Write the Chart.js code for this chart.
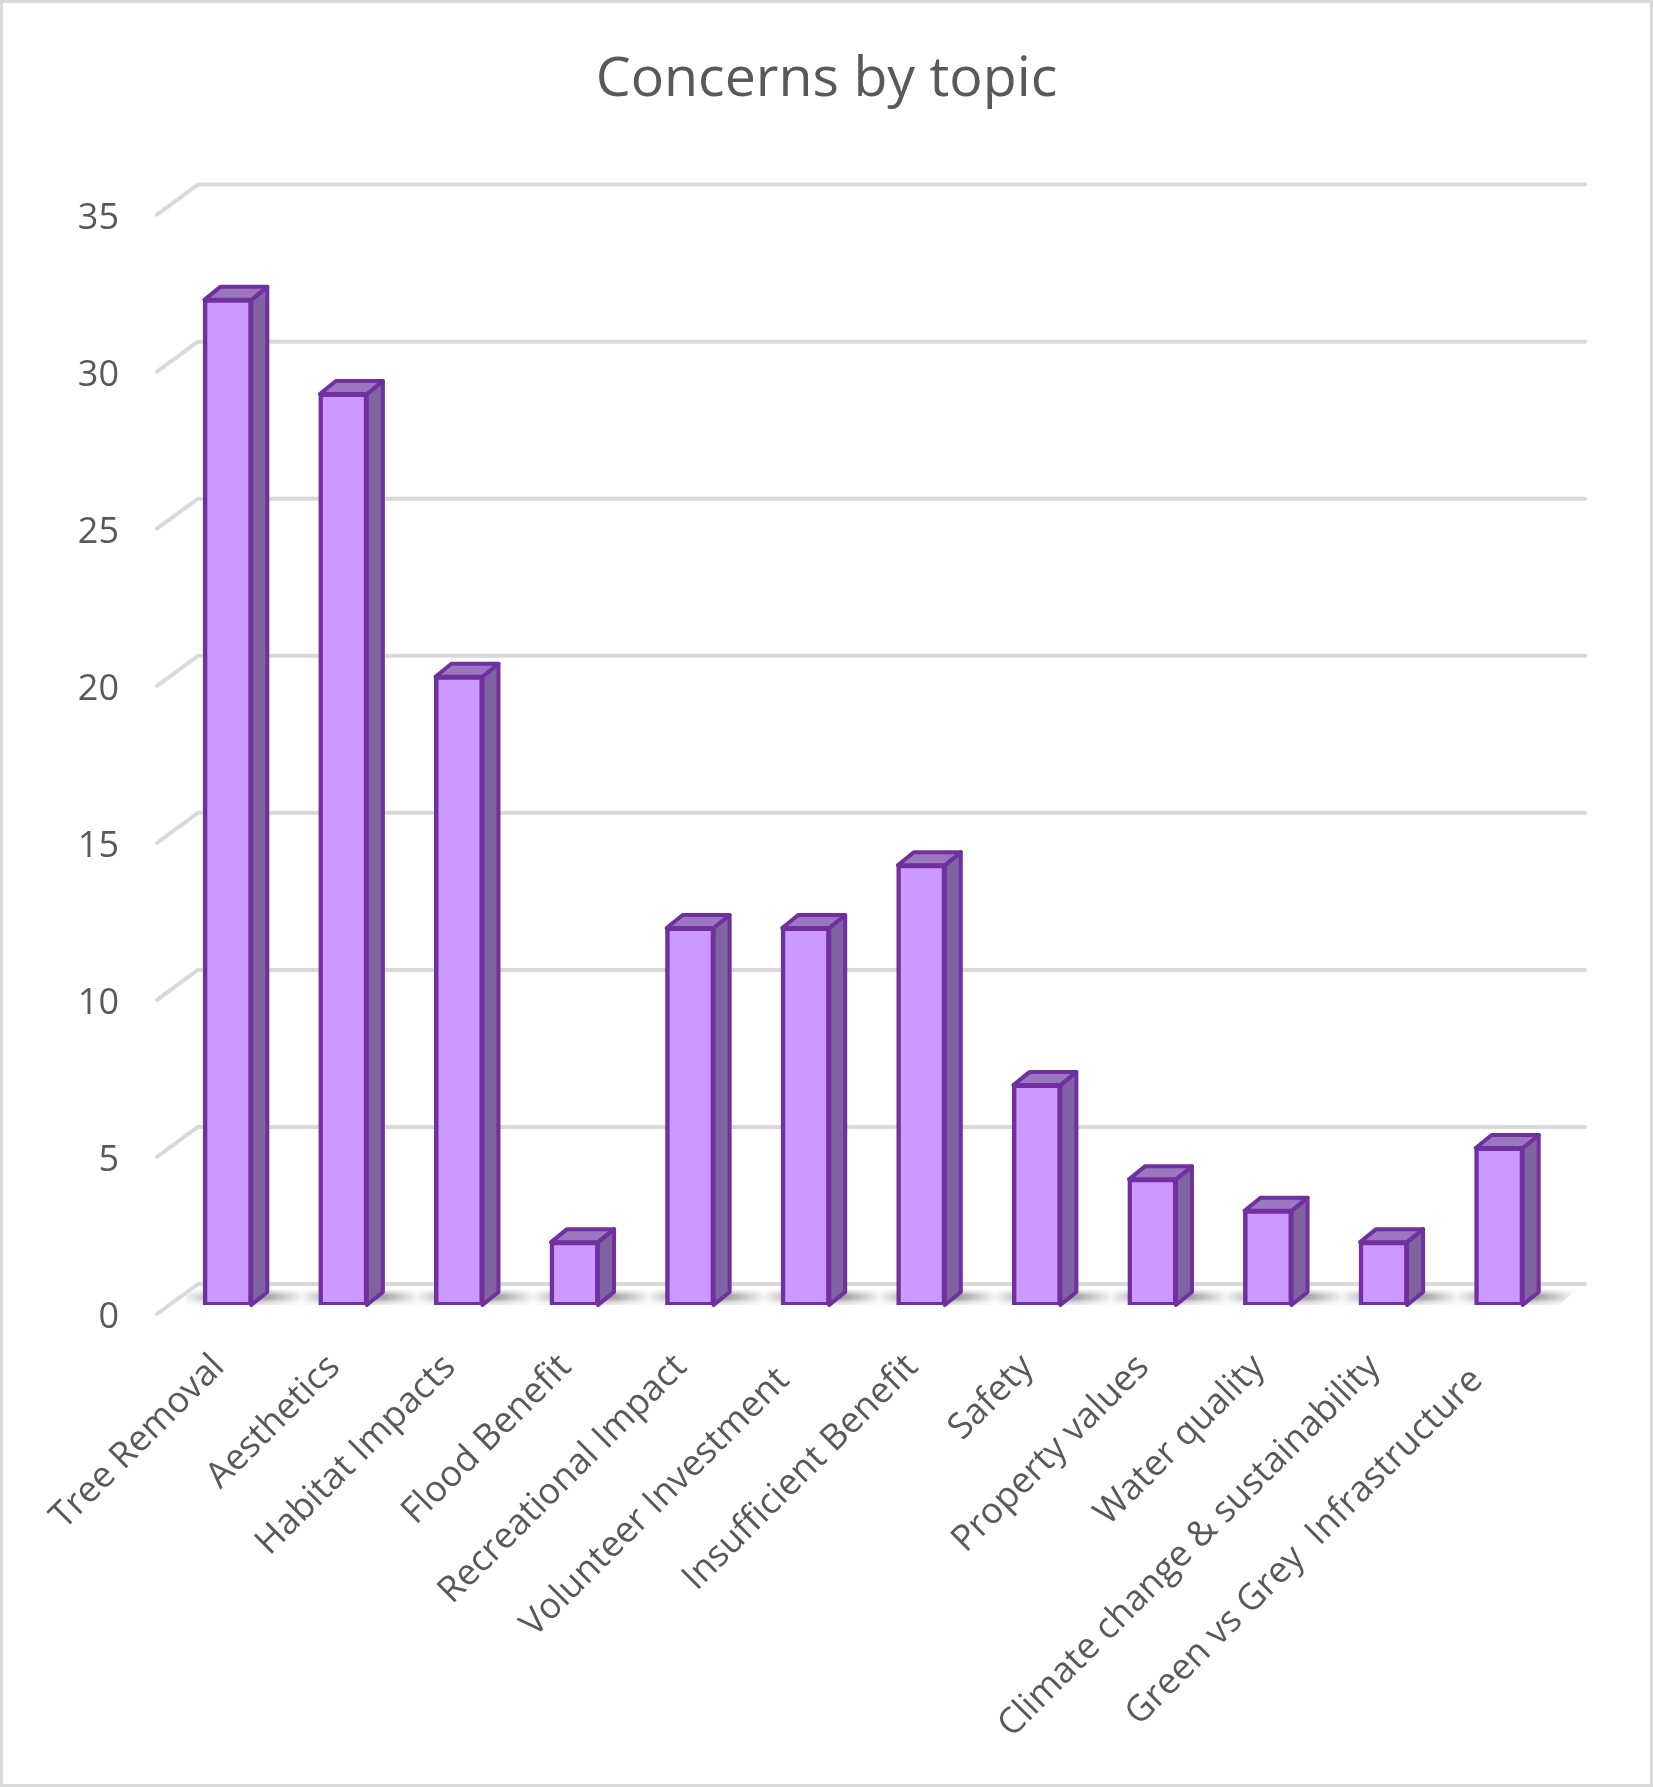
<!DOCTYPE html>
<html><head><meta charset="utf-8">
<style>
html,body{margin:0;padding:0;background:#fff}
#wrap{position:relative;width:1653px;height:1787px;overflow:hidden}
#wrap:after{content:"";position:absolute;inset:0;border:3px solid #d9d9d9;box-sizing:border-box;pointer-events:none}
canvas{display:block}
</style>
<script src="https://cdn.jsdelivr.net/npm/chart.js@4/dist/chart.umd.min.js"></script>
</head><body><div id="wrap"><canvas id="c" width="1653" height="1787"></canvas></div>
<script>
const titleText = "Concerns by topic";
const categories = ["Tree Removal","Aesthetics","Habitat Impacts","Flood Benefit","Recreational Impact","Volunteer Investment  ","Insufficient Benefit","Safety","Property values","Water quality","Climate change & sustainability","Green vs Grey  Infrastructure  "];
const concerns = [32,29,20,2,12,12,14,7,4,3,2,5];
const yMax = 35, yStep = 5;
const FONT = "'Open Sans'";

// 3D look: depth of the bars and of the floor, in pixels
const barDX = 16, barDY = 13;
const backDX = 28, backDY = 21;      // bar front plane -> back wall
const frontDX = 13, frontDY = 9;     // bar front plane -> front of side wall

const threeD = {
  id:'threeD',
  afterLayout(chart){
    // centre the title on the whole canvas
    const t = chart.titleBlock;
    if(t){ t.left = 0; t.right = chart.width; }
  },
  beforeDatasetsDraw(chart){
    const {ctx, scales:{y}, chartArea:a} = chart;
    const bars = chart.getDatasetMeta(0).data;
    const y0 = y.getPixelForValue(0);
    const top = y0-16, bot = y0;
    ctx.save();
    // floor shadows, clipped to a floor parallelogram
    const lastR = bars[bars.length-1].x;
    const floor = new Path2D();
    floor.moveTo(bars[0].x-42,top);floor.lineTo(lastR+78,top);floor.lineTo(lastR+60,bot);floor.lineTo(bars[0].x-48,bot);floor.closePath();
    ctx.save();
    ctx.clip(floor);
    const half = (bars[1].x-bars[0].x)/2;
    bars.forEach(b=>{
      const cx = b.x+barDX, xs = cx-half, xe = cx+half;
      const g = ctx.createLinearGradient(xs,0,xe,0);
      g.addColorStop(0,'rgba(110,110,110,.08)');
      g.addColorStop(.25,'rgba(110,110,110,.55)');
      g.addColorStop(.5,'rgba(110,110,110,.95)');
      g.addColorStop(.75,'rgba(110,110,110,.55)');
      g.addColorStop(1,'rgba(110,110,110,.08)');
      ctx.fillStyle = g;
      ctx.fillRect(xs,top,xe-xs,bot-top);
    });
    const vg = ctx.createLinearGradient(0,top,0,bot);
    vg.addColorStop(0,'rgba(255,255,255,1)');
    vg.addColorStop(.2,'rgba(255,255,255,.5)');
    vg.addColorStop(.4,'rgba(255,255,255,0)');
    vg.addColorStop(.6,'rgba(255,255,255,.05)');
    vg.addColorStop(.8,'rgba(255,255,255,.55)');
    vg.addColorStop(1,'rgba(255,255,255,.82)');
    ctx.fillStyle = vg;
    ctx.fillRect(a.left,top,a.right+60-a.left,bot-top);
    ctx.restore();
    // grid lines: side wall then back wall
    ctx.strokeStyle='#d9d9d9';ctx.lineWidth=4;ctx.lineCap='round';ctx.lineJoin='round';
    y.ticks.forEach(t=>{
      const py = y.getPixelForValue(t.value);
      ctx.beginPath();
      ctx.moveTo(a.left-frontDX, py+frontDY);
      ctx.lineTo(a.left+backDX, py-backDY);
      ctx.lineTo(a.right+backDX, py-backDY);
      ctx.stroke();
    });
    // bar side and top faces
    ctx.lineWidth=4;ctx.strokeStyle='#7030a0';ctx.lineJoin='round';
    bars.forEach(b=>{
      const l=b.x-b.width/2, r=b.x+b.width/2, t=b.y, base=b.base;
      ctx.fillStyle='#8064a2';
      ctx.beginPath();
      ctx.moveTo(r,t);ctx.lineTo(r+barDX,t-barDY);ctx.lineTo(r+barDX,base-barDY);ctx.lineTo(r,base);ctx.closePath();
      ctx.fill();ctx.stroke();
      ctx.fillStyle='#9b77bf';
      ctx.beginPath();
      ctx.moveTo(l,t);ctx.lineTo(l+barDX,t-barDY);ctx.lineTo(r+barDX,t-barDY);ctx.lineTo(r,t);ctx.closePath();
      ctx.fill();ctx.stroke();
    });
    ctx.restore();
  }
};

new Chart(document.getElementById('c'),{
  type:'bar',
  data:{labels:categories,datasets:[{data:concerns,backgroundColor:'#cc99ff',borderColor:'#7030a0',borderWidth:4.5,borderSkipped:false,barThickness:47,inflateAmount:1.5}]},
  plugins:[threeD],
  options:{
    responsive:false,animation:false,devicePixelRatio:1,
    layout:{padding:{left:0,right:96,top:0,bottom:0}},
    plugins:{
      legend:{display:false},tooltip:{enabled:false},
      title:{display:true,text:titleText,color:'#595959',font:{family:FONT,size:55.5,weight:'400'},padding:{top:47,bottom:92}}
    },
    scales:{
      x:{
        grid:{display:false},border:{display:false},
        ticks:{color:'#595959',font:{family:FONT,size:36},minRotation:45,maxRotation:45,autoSkip:false,padding:33,labelOffset:-9},
        afterFit(s){s.height=482;}
      },
      y:{
        min:0,max:yMax,
        grid:{display:false},border:{display:false},
        ticks:{stepSize:yStep,color:'#595959',font:{family:FONT,size:36},padding:43,labelOffset:13},
        afterFit(s){s.width=170;}
      }
    }
  }
});
</script></body></html>
